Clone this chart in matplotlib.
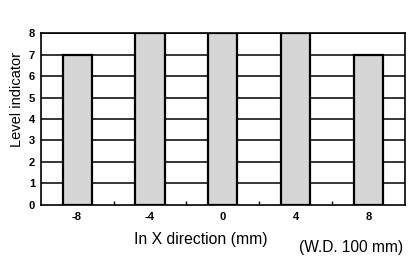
import matplotlib
matplotlib.use("Agg")
import matplotlib.pyplot as plt

positions = [-8, -4, 0, 4, 8]
levels = [7, 8, 8, 8, 7]
xtick_labels = ["-8", "-4", "0", "4", "8"]
minor_ticks = [-6, -2, 2, 6]
ytick_values = list(range(0, 9))

plt.rcParams["font.family"] = ["Liberation Sans", "DejaVu Sans"]

fig = plt.figure(figsize=(4.09, 2.62), dpi=100)
ax = fig.add_axes([0.0995, 0.2176, 0.8905, 0.6564])

for y in ytick_values[1:]:
    ax.axhline(y, color="black", linewidth=1.1, zorder=1)

ax.bar(positions, levels, width=1.6, color="#d6d6d6", edgecolor="black",
       linewidth=1.6, zorder=2)

ax.set_xlim(-10, 10)
ax.set_ylim(0, 8)
ax.set_xticks(positions)
ax.set_xticklabels(xtick_labels, fontsize=8, fontweight="bold")
ax.set_xticks(minor_ticks, minor=True)
ax.set_yticks(ytick_values)
ax.set_yticklabels([str(v) for v in ytick_values], fontsize=8, fontweight="bold")
ax.tick_params(axis="x", which="major", length=0, pad=5)
ax.tick_params(axis="x", which="minor", direction="in", length=3, width=1)
ax.tick_params(axis="y", length=0, pad=4)
for side in ax.spines.values():
    side.set_linewidth(1.2)

fig.text(0.042, 0.622, "Level indicator", rotation=90, fontsize=10.5,
         ha="center", va="center")
fig.text(0.49, 0.084, "In X direction (mm)", fontsize=11.3, ha="center", va="center")
fig.text(0.732, 0.057, "(W.D. 100 mm)", fontsize=11.2, ha="left", va="center")

fig.savefig("out.png", dpi=100)
